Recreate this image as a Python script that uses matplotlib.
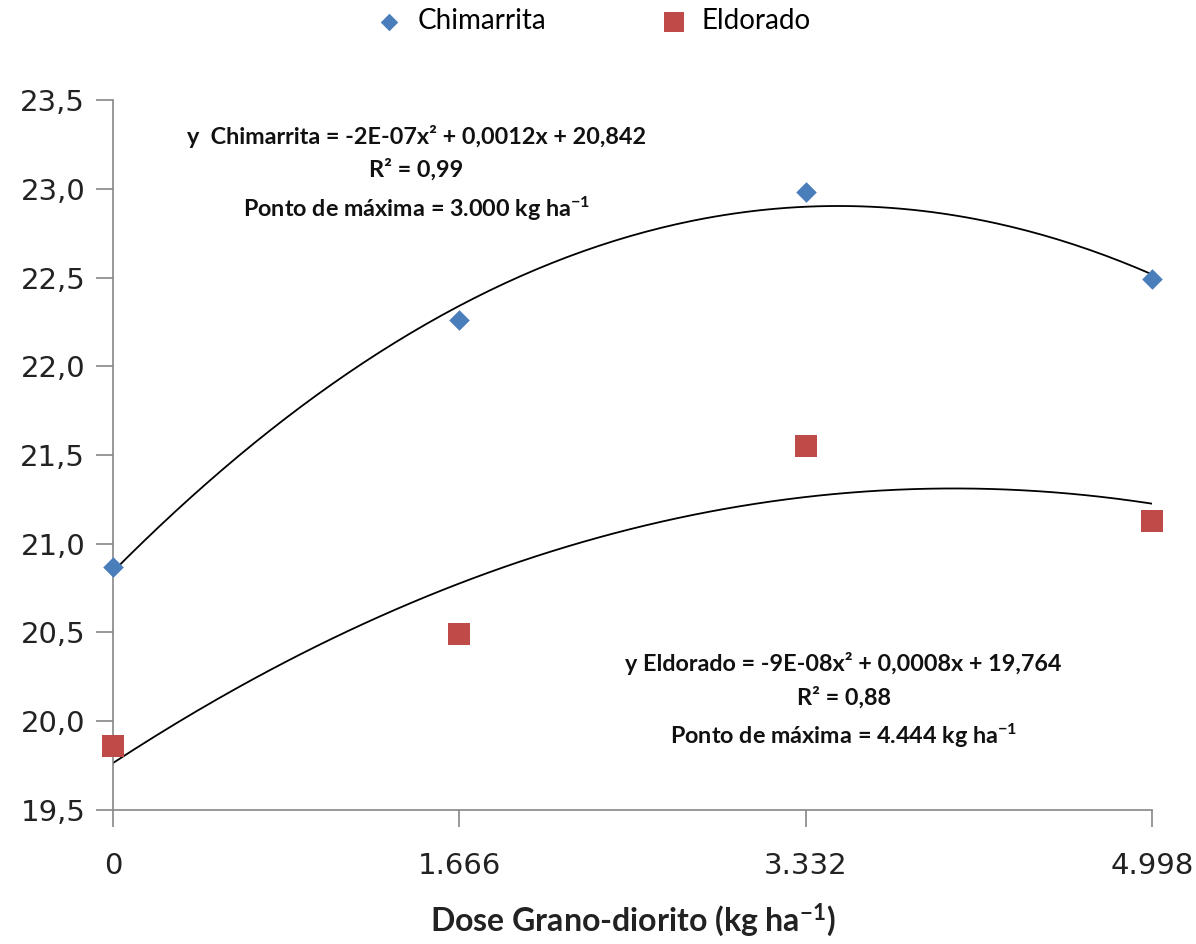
import numpy as np
import matplotlib
matplotlib.use('Agg')
from matplotlib import pyplot as plt

plt.rcParams['mathtext.default'] = 'regular'

# data
doses = [0, 1666, 3332, 4998]
dose_labels = ['0', '1.666', '3.332', '4.998']
chimarrita = [20.87, 22.26, 22.98, 22.49]
eldorado = [19.86, 20.49, 21.55, 21.13]
yticks = [19.5, 20.0, 20.5, 21.0, 21.5, 22.0, 22.5, 23.0, 23.5]

eq_chim = 'y  Chimarrita = -2E-07x² + 0,0012x + 20,842\nR² = 0,99\nPonto de máxima = 3.000 kg ha$^{-1}$'
eq_eldo = 'y Eldorado = -9E-08x² + 0,0008x + 19,764\nR² = 0,88\nPonto de máxima = 4.444 kg ha$^{-1}$'

blue = '#4a7ebb'
red = '#be4b48'
gray = '#868686'

fig = plt.figure(figsize=(11.96, 9.44), dpi=100)
ax = fig.add_axes([0.0945, 0.142, 0.869, 0.752])

# quadratic trend lines fitted to the points
xs = np.linspace(doses[0], doses[-1], 200)
for vals in [chimarrita, eldorado]:
    c = np.polyfit(doses, vals, 2)
    ax.plot(xs, np.polyval(c, xs), color='black', lw=1.3, zorder=2)

ax.scatter(doses, chimarrita, marker='D', s=110, color=blue, label='Chimarrita', zorder=3,
           linewidths=0, clip_on=False)
ax.scatter(doses, eldorado, marker='s', s=260, color=red, label='Eldorado', zorder=3,
           linewidths=0, clip_on=False)

ax.set_xlim(doses[0], doses[-1])
ax.set_ylim(19.5, 23.5)
ax.set_xticks(doses)
ax.set_xticklabels(dose_labels)
ax.set_yticks(yticks)
ax.set_yticklabels([('%.1f' % v).replace('.', ',') for v in yticks])
ax.tick_params(axis='both', colors=gray, length=12, width=1.2, labelsize=21, labelcolor='#222222')
ax.tick_params(axis='x', pad=18)
ax.tick_params(axis='y', pad=8)
for s in ['top', 'right']:
    ax.spines[s].set_visible(False)
for s in ['left', 'bottom']:
    ax.spines[s].set_color(gray)
    ax.spines[s].set_linewidth(1.2)

ax.text(0.292, 0.965, eq_chim, transform=ax.transAxes, ha='center', va='top', fontsize=16.8,
        family='Lato', fontweight='bold', linespacing=1.6, color='#111111')
ax.text(0.703, 0.222, eq_eldo, transform=ax.transAxes, ha='center', va='top', fontsize=16.8,
        family='Lato', fontweight='bold', linespacing=1.6, color='#111111')

ax.set_xlabel('Dose Grano-diorito (kg ha$^{-1}$)', family='Lato', fontweight='bold', fontsize=23,
              labelpad=16, color='#222222')

leg = fig.legend(loc='upper center', bbox_to_anchor=(0.49, 1.018), ncol=2, frameon=False,
                 prop={'family': 'Lato', 'size': 20}, handletextpad=0.0, columnspacing=3.6,
                 markerscale=0.85)

fig.savefig('out.png', dpi=100)
